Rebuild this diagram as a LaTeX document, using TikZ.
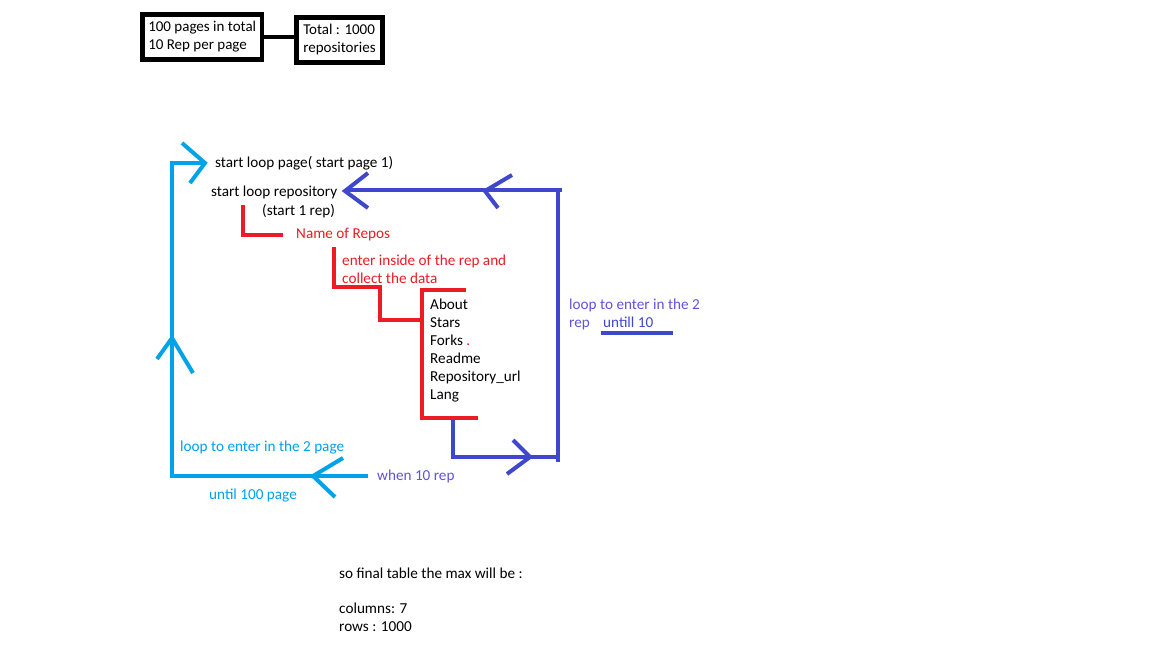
\documentclass[tikz,border=0pt]{standalone}
\usepackage{fontspec}
\setmainfont{Carlito}
\usetikzlibrary{positioning}
\definecolor{paintcyan}{RGB}{0,162,232}
\definecolor{paintblue}{RGB}{63,72,204}
\definecolor{paintred}{RGB}{237,28,36}
\definecolor{notepurple}{RGB}{98,84,214}
\tikzset{
  txt/.style={anchor=base west, inner sep=0pt, font=\fontsize{15.2}{18}\selectfont},
  boxtxt/.style={draw, line width=4.5pt, anchor=north west, align=left,
    inner ysep=0pt, minimum height=45pt, font=\fontsize{15}{18}\selectfont},
  cyanline/.style={color=paintcyan, line width=4pt},
  blueline/.style={color=paintblue, line width=4pt},
  redline/.style={color=paintred, line width=4pt},
}
\begin{document}
\begin{tikzpicture}[x=1pt,y=-1pt]
        \useasboundingbox[fill=white] (0,0) rectangle (1152,648);
        \node[boxtxt, inner xsep=6pt] (pagesbox) at (140,12) {100 pages in total\\10 Rep per page};
        \node[boxtxt, inner xsep=7pt] (totalbox) at (294,15) {Total : 1000\\repositories};
        \draw[line width=4.5pt] (pagesbox.east) -- (pagesbox.east -| totalbox.west);
        \node[txt] (startpage) at (215,167) {start loop page( start page 1)};
        \node[txt] (startrepo) at (211,196) {start loop repository};
        \node[txt] (startone) at (262,215) {(start 1 rep)};
        \node[txt, paintred] (reponame) at (296,238) {Name of Repos};
        \node[txt, paintred] (enterrep) at (342,265) {enter inside of the rep and};
        \node[txt, paintred] (collect) at (342,283) {collect the data};
        \foreach \field [count=\i] in {About,Stars,Forks {\color{paintred}.},Readme,Repository\_url,Lang}
            \node[txt] (field\i) at (430,291+18*\i) {\field};
        \node[txt, notepurple] (looprep) at (569,309) {loop to enter in the 2};
        \node[txt, notepurple] (looprep2) at (569,327) {rep};
        \node[txt, paintblue] (untilten) at (603,327) {untill 10};
        \node[txt, paintcyan] (looppage) at (180,451) {loop to enter in the 2 page};
        \node[txt, paintcyan] (untilpage) at (209,499) {until 100 page};
        \node[txt, notepurple] (whenten) at (377,480) {when 10 rep};
        \node[txt] (final) at (339,578) {so final table the max will be :};
        \node[txt] (columns) at (339,613) {columns: 7};
        \node[txt] (rows) at (339,631) {rows : 1000};
        \draw[cyanline] (205,163) -- (172,163) -- (172,476) -- (368,476);
        \draw[cyanline] (182,143) -- (205,163) -- (190,183);
        \draw[cyanline] (157,359) -- (172,338) -- (193,373);
        \draw[cyanline] (343,458) -- (313,476) -- (335,497);
        \draw[blueline] (345,190) -- (562,190);
        \draw[blueline] (558,190) -- (558,462);
        \draw[blueline] (453,418) -- (453,457) -- (558,457);
        \draw[blueline] (368,173) -- (345,191) -- (368,208);
        \draw[blueline] (512,175) -- (485,191) -- (498,208);
        \draw[blueline] (513,440) -- (530,457) -- (507,474);
        \draw[blueline] (601,333) -- (673,333);
        \draw[redline] (243,205) -- (243,235) -- (283,235);
        \draw[redline] (334,247) -- (334,287) -- (380,287) -- (380,320) -- (422,320);
        \draw[redline] (466,290) -- (422,290) -- (422,418) -- (478,418);
\end{tikzpicture}
\end{document}
